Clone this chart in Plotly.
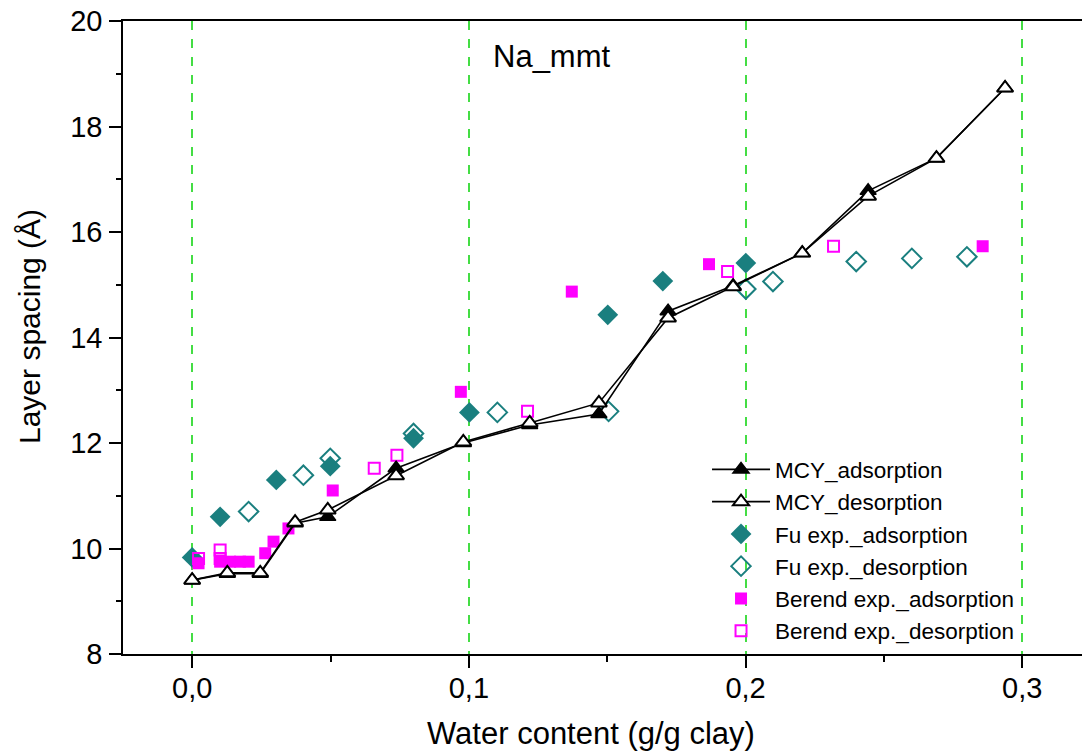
import plotly.graph_objects as go

# ---- data ----
mcy_x = [0.0, 0.0127, 0.0246, 0.0372, 0.049, 0.0737, 0.098, 0.122, 0.147, 0.172, 0.1955, 0.2205, 0.2443, 0.269, 0.2938]
mcy_ads_y = [9.40, 9.52, 9.52, 10.48, 10.60, 11.52, 12.00, 12.34, 12.55, 14.50, 14.98, 15.60, 16.78, 17.40, 18.73]
mcy_des_y = [9.40, 9.54, 9.54, 10.50, 10.73, 11.38, 12.02, 12.38, 12.76, 14.37, 14.96, 15.60, 16.68, 17.40, 18.73]

fu_ads_x = [0.0, 0.0101, 0.0304, 0.0499, 0.080, 0.1002, 0.1502, 0.1701, 0.2001]
fu_ads_y = [9.83, 10.60, 11.30, 11.56, 12.09, 12.58, 14.43, 15.07, 15.41]

fu_des_x = [0.0204, 0.0402, 0.0499, 0.080, 0.1103, 0.1505, 0.2001, 0.2099, 0.240, 0.2601, 0.280]
fu_des_y = [10.70, 11.39, 11.71, 12.18, 12.58, 12.60, 14.92, 15.06, 15.44, 15.50, 15.53]

be_ads_x = [0.0023, 0.0101, 0.0137, 0.0173, 0.0204, 0.0264, 0.0294, 0.0348, 0.0508, 0.0971, 0.1372, 0.1868, 0.2857]
be_ads_y = [9.72, 9.75, 9.75, 9.75, 9.75, 9.91, 10.13, 10.38, 11.10, 12.97, 14.87, 15.39, 15.73]

be_des_x = [0.0023, 0.0101, 0.0101, 0.0658, 0.074, 0.1212, 0.1935, 0.2318]
be_des_y = [9.81, 9.97, 9.81, 11.52, 11.77, 12.60, 15.25, 15.73]

x_ticks = [0.0, 0.1, 0.2, 0.3]
y_ticks = [8, 10, 12, 14, 16, 18, 20]

TEAL = "#1a7f7f"
MAG = "#ff00ff"
FONT = "Liberation Sans, Arial"

fig = go.Figure()

fig.add_trace(go.Scatter(x=fu_ads_x, y=fu_ads_y, mode="markers", name="Fu exp._adsorption",
                         legendrank=3,
                         marker=dict(symbol="diamond", size=16, color=TEAL, line=dict(width=0))))
fig.add_trace(go.Scatter(x=fu_des_x, y=fu_des_y, mode="markers", name="Fu exp._desorption",
                         legendrank=4,
                         marker=dict(symbol="diamond", size=15, color="rgba(255,255,255,0)",
                                     line=dict(width=2, color=TEAL))))
fig.add_trace(go.Scatter(x=be_ads_x, y=be_ads_y, mode="markers", name="Berend exp._adsorption",
                         legendrank=5,
                         marker=dict(symbol="square", size=12, color=MAG, line=dict(width=0))))
fig.add_trace(go.Scatter(x=be_des_x, y=be_des_y, mode="markers", name="Berend exp._desorption",
                         legendrank=6,
                         marker=dict(symbol="square", size=11, color="rgba(255,255,255,0)",
                                     line=dict(width=2, color=MAG))))
fig.add_trace(go.Scatter(x=mcy_x, y=mcy_ads_y, mode="lines+markers", name="MCY_adsorption",
                         legendrank=1,
                         line=dict(color="black", width=1.6),
                         marker=dict(symbol="triangle-up", size=14, color="black",
                                     line=dict(width=1.5, color="black"))))
fig.add_trace(go.Scatter(x=mcy_x, y=mcy_des_y, mode="lines+markers", name="MCY_desorption",
                         legendrank=2,
                         line=dict(color="black", width=1.6),
                         marker=dict(symbol="triangle-up", size=14, color="white",
                                     line=dict(width=2, color="black"))))

fig.add_annotation(x=0.1301, y=19.32, xref="x", yref="y", text="Na_mmt", showarrow=False,
                   font=dict(size=31, color="black", family=FONT))

# axis titles as annotations for precise placement
fig.add_annotation(x=(591 - 123) / 959, y=(654 - 733) / 633, xref="paper", yref="paper",
                   text="Water content (g/g clay)", showarrow=False,
                   xanchor="center", yanchor="middle",
                   font=dict(size=31, color="black", family=FONT))
fig.add_annotation(x=(29 - 123) / 959, y=(654 - 327) / 633, xref="paper", yref="paper",
                   text="Layer spacing (Å)", showarrow=False, textangle=-90,
                   xanchor="center", yanchor="middle",
                   font=dict(size=30, color="black", family=FONT))

fig.update_layout(
    width=1082, height=755,
    margin=dict(l=123, r=0, t=21, b=101),
    paper_bgcolor="white", plot_bgcolor="white",
    separators=",.",
    font=dict(family=FONT, color="black"),
    showlegend=True,
    legend=dict(x=0.609, y=0.325, xanchor="left", yanchor="top",
                bgcolor="rgba(255,255,255,0)", font=dict(size=22.5, color="black"),
                tracegroupgap=0, itemwidth=58),
)

fig.update_xaxes(
    range=[-0.025, 0.3216], tickvals=x_ticks, tickformat=".1f",
    showline=True, linecolor="black", linewidth=1.5, mirror=True,
    ticks="outside", ticklen=12, tickwidth=1.5, tickcolor="black",
    minor=dict(dtick=0.05, tick0=0, ticks="outside", ticklen=6, tickwidth=1.5, tickcolor="black"),
    showgrid=True, gridcolor="#44dd44", gridwidth=1.5, griddash="dash",
    zeroline=False,
    tickfont=dict(size=29, family=FONT),
    ticklabelstandoff=-5,
)
fig.update_yaxes(
    range=[8, 20], tickvals=y_ticks,
    showline=True, linecolor="black", linewidth=1.5, mirror=False,
    ticks="outside", ticklen=12, tickwidth=1.5, tickcolor="black",
    minor=dict(dtick=1, tick0=8, ticks="outside", ticklen=5, tickwidth=1.5, tickcolor="black"),
    showgrid=False, zeroline=False,
    tickfont=dict(size=29, family=FONT),
    ticklabelstandoff=1,
)

fig.write_html("out.html")
